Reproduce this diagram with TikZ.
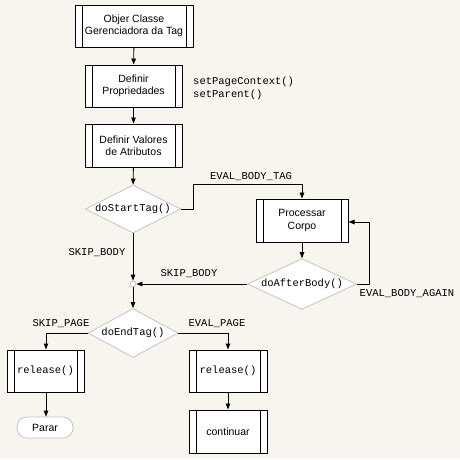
\documentclass[tikz,border=0pt]{standalone}
\usepackage{fontspec}
\setmainfont{Liberation Sans}
\setmonofont{Liberation Mono}
\usetikzlibrary{shapes.geometric,arrows.meta}
\definecolor{bgc}{HTML}{F8F4EE}
\definecolor{dgray}{HTML}{C4C4C4}
\tikzset{
  procbox/.style={draw=black, line width=1pt, fill=white, inner sep=0pt, align=center,
    font=\fontsize{10.5}{12.5}\selectfont,
    path picture={
      \draw[line width=1pt] ([xshift=7pt]path picture bounding box.north west) -- ([xshift=7pt]path picture bounding box.south west);
      \draw[line width=1pt] ([xshift=-7pt]path picture bounding box.north east) -- ([xshift=-7pt]path picture bounding box.south east);
    }},
  decision/.style={diamond, draw=dgray, line width=0.8pt, fill=white, inner sep=0pt, aspect=2,
    font=\ttfamily\fontsize{10.5}{12.5}\selectfont},
  terminal/.style={draw=dgray, line width=0.8pt, fill=white, rounded corners=10pt, inner sep=0pt,
    font=\fontsize{10.5}{12.5}\selectfont},
  junction/.style={circle, draw=dgray, line width=0.8pt, fill=white, minimum size=6pt, inner sep=0pt},
  lbl/.style={font=\ttfamily\fontsize{10.5}{12.5}\selectfont, inner sep=0pt},
  conn/.style={draw=black, line width=0.9pt, -{Triangle[length=6pt,width=4.5pt]}},
}
\begin{document}
\begin{tikzpicture}[x=1pt,y=-1pt]
\fill[bgc] (0,0) rectangle (460,459);
\useasboundingbox (0,0) rectangle (460,459);

\node[procbox, minimum width=118pt, minimum height=42pt] (b1) at (134,26) {Objer Classe\\Gerenciadora da Tag};
\node[procbox, minimum width=97pt, minimum height=42pt] (b2) at (133.5,86) {Definir\\Propriedades};
\node[procbox, minimum width=97pt, minimum height=43pt] (b3) at (133.5,145.5) {Definir Valores\\de Atributos};
\node[lbl, anchor=west, align=left, font=\ttfamily\fontsize{10.5}{13}\selectfont] (props) at (193,88) {setPageContext()\\setParent()};

\node[decision, minimum width=95pt, minimum height=48pt] (d1) at (133,209) {doStartTag()};
\node[procbox, minimum width=92pt, minimum height=43pt] (b4) at (302,220.5) {Processar\\Corpo};
\node[decision, minimum width=109pt, minimum height=48pt] (d2) at (302,284) {doAfterBody()};
\node[junction] (c) at (133,284) {};
\node[decision, minimum width=90pt, minimum height=49pt] (d3) at (133,333) {doEndTag()};

\node[procbox, minimum width=77pt, minimum height=42pt, font=\ttfamily\fontsize{10.5}{12.5}\selectfont] (b5) at (45.5,371) {release()};
\node[terminal, minimum width=56pt, minimum height=21pt] (parar) at (45,427.5) {Parar};
\node[procbox, minimum width=78pt, minimum height=42pt, font=\ttfamily\fontsize{10.5}{12.5}\selectfont] (b6) at (228,371) {release()};
\node[procbox, minimum width=78pt, minimum height=43pt] (b7) at (228,431.5) {continuar};

\node[lbl] (l1) at (251,177) {EVAL\_BODY\_TAG};
\node[lbl] (l2) at (97,253) {SKIP\_BODY};
\node[lbl] (l3) at (189,274) {SKIP\_BODY};
\node[lbl] (l4) at (407,294) {EVAL\_BODY\_AGAIN};
\node[lbl] (l5) at (61,324) {SKIP\_PAGE};
\node[lbl] (l6) at (217,324) {EVAL\_PAGE};

\coordinate (e1) at (193,209);
\coordinate (e2) at (193,184);
\coordinate (e3) at (302,184);
\coordinate (a1) at (369,284);
\coordinate (a2) at (369,222);
\coordinate (s1) at (46,333);
\coordinate (p1) at (228,333);

\draw[conn] (b1) -- (b2);
\draw[conn] (b2) -- (b3);
\draw[conn] (b3) -- (d1);
\draw[conn] (d1) -- (c);
\draw[conn] (d1.east) -- (e1) -- (e2) -- (e3) -- (b4.north);
\draw[conn] (b4) -- (d2);
\draw[conn] (d2) -- (c);
\draw[conn] (d2.east) -- (a1) -- (a2) -- (a2 -| b4.east);
\draw[conn] (c) -- (d3);
\draw[conn] (d3.west) -- (s1) -- (s1 |- b5.north);
\draw[conn] (d3.east) -- (p1) -- (p1 |- b6.north);
\draw[conn] (b5.south -| s1) -- (parar.north -| s1);
\draw[conn] (b6) -- (b7);
\end{tikzpicture}
\end{document}
